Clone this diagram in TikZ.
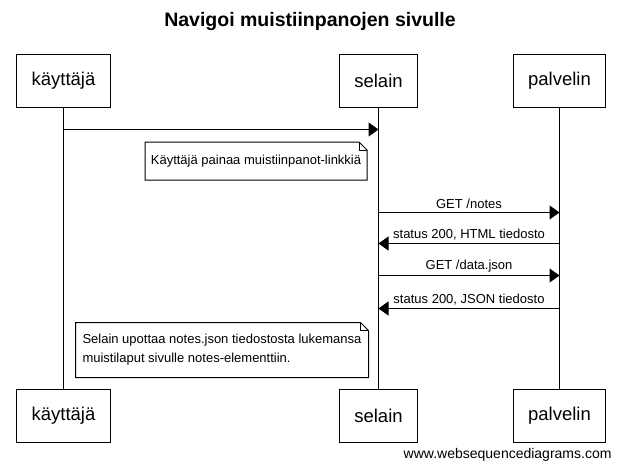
\documentclass[tikz,border=0pt]{standalone}
\usepackage{fontspec}
\setmainfont{Liberation Sans}
\usetikzlibrary{arrows.meta,positioning}
\begin{document}
\begin{tikzpicture}[x=1pt,y=-1pt,line width=1pt,
    actor/.style={draw,minimum height=53pt,inner xsep=15pt,font=\fontsize{18.5}{20}\selectfont},
    msg/.style={-{Triangle[length=10pt,width=14pt]}},
    lbl/.style={above,inner sep=3pt,font=\fontsize{13}{15}\selectfont},
    notetext/.style={inner sep=0pt,align=left,font=\fontsize{13}{19}\selectfont}]

    \useasboundingbox (0,0) rectangle (620,468);

    \node[font=\bfseries\fontsize{19.5}{24}\selectfont] (title) at (310,22) {Navigoi muistiinpanojen sivulle};

    % osallistujat
    \node[actor] (k1) at (63.5,81) {käyttäjä};
    \node[actor] (s1) at (378.5,81) {selain};
    \node[actor] (p1) at (559.5,81) {palvelin};
    \node[actor] (k2) at (63.5,416) {käyttäjä};
    \node[actor] (s2) at (378.5,416) {selain};
    \node[actor] (p2) at (559.5,416) {palvelin};

    \draw (k1) -- (k2);
    \draw (s1) -- (s2);
    \draw (p1) -- (p2);

    % viestit
    \draw[msg] (k1.south |- 0,129.5) -- (s1.south |- 0,129.5);

    \node[notetext,minimum width=221pt,minimum height=37pt,align=center] (n1) at (256,161) {Käyttäjä painaa muistiinpanot-linkkiä};
    \draw[fill=white] (n1.south west) -- (n1.north west) -- ([xshift=-8pt]n1.north east)
        -- ([yshift=-8pt]n1.north east) -- (n1.south east) -- cycle;
    \draw ([xshift=-8pt]n1.north east) |- ([yshift=-8pt]n1.north east);
    \node[notetext] at (n1) {Käyttäjä painaa muistiinpanot-linkkiä};

    \draw[msg] (s1.south |- 0,212.5) -- node[lbl] (m1) {GET /notes} (p1.south |- 0,212.5);
    \draw[msg] (p1.south |- 0,243.5) -- node[lbl] (m2) {status 200, HTML tiedosto} (s1.south |- 0,243.5);
    \draw[msg] (s1.south |- 0,275.5) -- node[lbl] (m3) {GET /data.json} (p1.south |- 0,275.5);
    \draw[msg] (p1.south |- 0,308.5) -- node[lbl] (m4) {status 200, JSON tiedosto} (s1.south |- 0,308.5);

    \coordinate (n2nw) at (75.5,322.5);
    \coordinate (n2se) at (368.5,377.5);
    \draw[fill=white] (n2nw |- n2se) -- (n2nw) -- ([xshift=-8pt]n2se |- n2nw)
        -- ([yshift=-8pt]n2se |- n2nw) -- (n2se) -- cycle;
    \draw ([xshift=-8pt]n2se |- n2nw) |- ([yshift=-8pt]n2se |- n2nw);
    \node[notetext,anchor=west] (n2) at (82,349.5) {Selain upottaa notes.json tiedostosta lukemansa\\muistilaput sivulle notes-elementtiin.};

    \node[anchor=south east,inner sep=0pt,font=\fontsize{14}{16}\selectfont] (wsd) at (612,462) {www.websequencediagrams.com};
\end{tikzpicture}
\end{document}
